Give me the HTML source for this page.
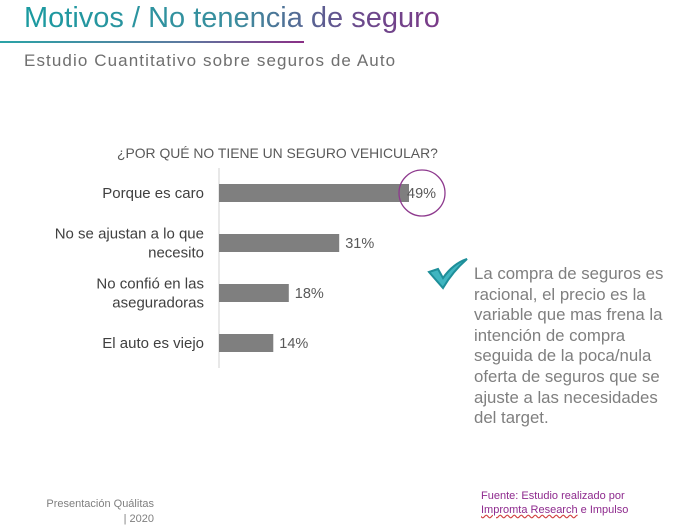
<!DOCTYPE html>
<html><head><meta charset="utf-8"><style>
body{margin:0;width:693px;height:525px;background:#fff;position:relative;overflow:hidden;font-family:"Liberation Sans",sans-serif}
.abs{position:absolute}
</style></head><body>
<div class="abs" style="left:24px;top:0px;font-size:29px;line-height:36px;background:linear-gradient(90deg,#1a9aa0,#3a8e9e 50%,#6a4a8c 80%,#7a3a88);-webkit-background-clip:text;background-clip:text;color:transparent;">Motivos / No tenencia de seguro</div>
<div class="abs" style="left:0;top:41px;width:304px;height:2px;background:linear-gradient(90deg,#2aa3a6,#5c7aa0 60%,#8a2f86)"></div>
<div class="abs" style="left:24px;top:51px;font-size:17px;letter-spacing:1.1px;color:#6f6f6f">Estudio Cuantitativo sobre seguros de Auto</div>
<div class="abs" style="left:117px;top:145px;font-size:13.9px;color:#595959">¿POR QUÉ NO TIENE UN SEGURO VEHICULAR?</div>
<svg class="abs" style="left:0;top:0" width="693" height="525">
<g id="g"></g>
<circle cx="422" cy="193" r="23" fill="none" stroke="#8e3a8e" stroke-width="1.3"/>
</svg>
<div class="abs" style="left:426px;top:258px">
<svg width="42" height="32"><path d="M3 14 L12 11 L17 20 C24 10 32 4 41 1 C33 8 24 18 17 30 Z" fill="#3fb5c0" stroke="#1e8f9a" stroke-width="2"/></svg></div>
<div class="abs" style="left:474px;top:264px;width:202px;font-size:16.8px;line-height:20.6px;color:#7f7f7f">La compra de seguros es racional, el precio es la variable que mas frena la intención de compra seguida de la poca/nula oferta de seguros que se ajuste a las necesidades del target.</div>
<div class="abs" style="left:481px;top:489px;font-size:11px;line-height:14px;color:#8e2a8e">Fuente: Estudio realizado por<br><span style="text-decoration:underline wavy #d04040">Impromta Research</span> e Impulso</div>
<div class="abs" style="left:20px;top:497px;font-size:11px;line-height:15px;color:#7f7f7f;text-align:right;width:134px">Presentación Quálitas<br>| 2020</div>
<script>
const categories=["Porque es caro","No se ajustan a lo que necesito","No confió en las aseguradoras","El auto es viejo"];
const labelLines=[["Porque es caro"],["No se ajustan a lo que","necesito"],["No confió en las","aseguradoras"],["El auto es viejo"]];
const values=[49,31,18,14];
const valueLabels=["49%","31%","18%","14%"];
const NS="http://www.w3.org/2000/svg";
const g=document.getElementById('g');
const x0=219,scale=190/49;
const xs=v=>x0+v*scale;
const yc=i=>193+i*50;
const ax=document.createElementNS(NS,'line');


ax.setAttribute('x1',x0);ax.setAttribute('x2',x0);ax.setAttribute('y1',168);ax.setAttribute('y2',368);ax.setAttribute('stroke','#d0d0d0');
g.appendChild(ax);
values.forEach((v,i)=>{
 const r=document.createElementNS(NS,'rect');
 
 
 r.setAttribute('x',x0);r.setAttribute('y',yc(i)-9);r.setAttribute('width',xs(v)-x0);r.setAttribute('height',18);r.setAttribute('fill','#7f7f7f');
 g.appendChild(r);
 const t=document.createElementNS(NS,'text');
 
 
 t.setAttribute('x',xs(v)+(i==0?-2:6));t.setAttribute('y',yc(i)+5);t.setAttribute('font-size','14.5');t.setAttribute('fill','#595959');t.setAttribute('font-family','Liberation Sans, sans-serif');
 t.textContent=valueLabels[i];g.appendChild(t);
 const L=labelLines[i];
 L.forEach((s,j)=>{
  const c=document.createElementNS(NS,'text');
  
  
  c.setAttribute('x',204);c.setAttribute('y',yc(i)+5+(j-(L.length-1)/2)*19);c.setAttribute('text-anchor','end');c.setAttribute('font-size','15');c.setAttribute('fill','#404040');c.setAttribute('font-family','Liberation Sans, sans-serif');
  c.textContent=s;g.appendChild(c);
 });
});
</script>
</body></html>
